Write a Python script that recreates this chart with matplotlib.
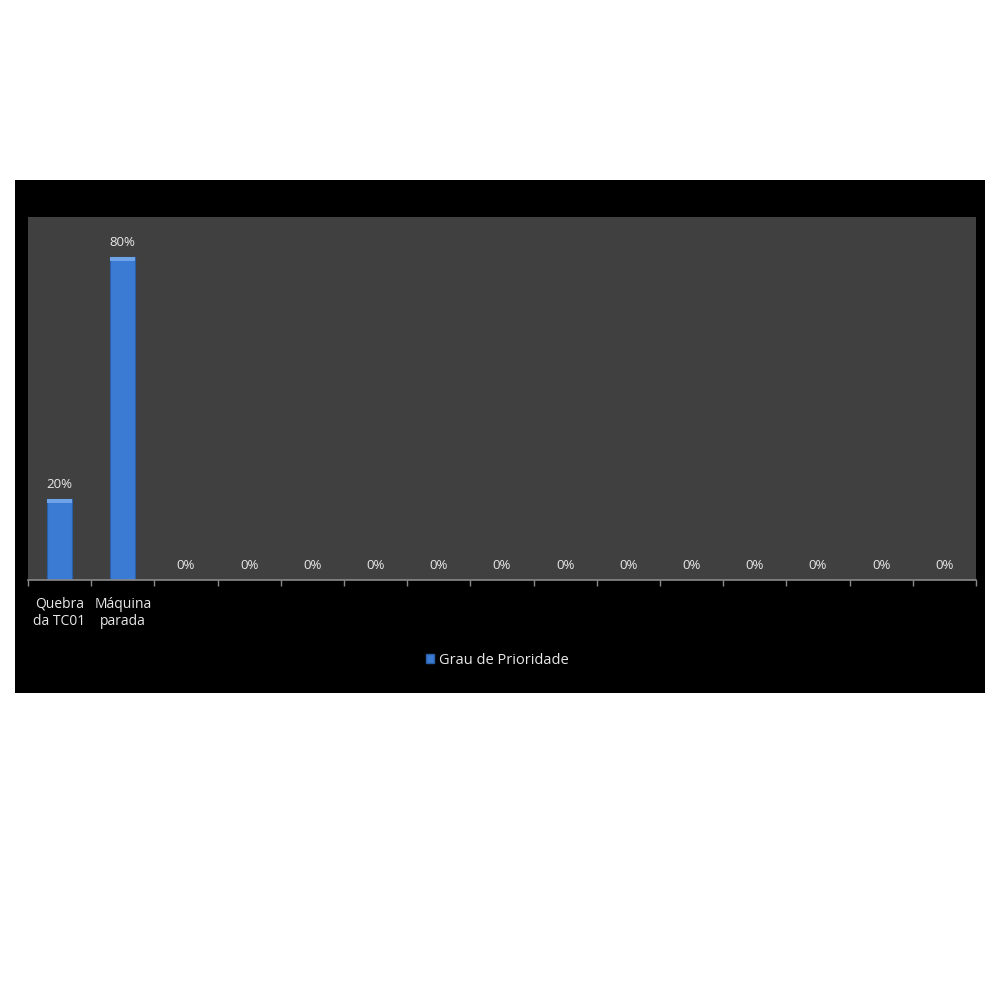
import matplotlib
matplotlib.use('Agg')
import matplotlib.pyplot as plt
from matplotlib.patches import Rectangle, Patch
import numpy as np

# data
categories = ["Quebra\nda TC01", "Máquina\nparada"] + [""] * 13
values = [0.20, 0.80] + [0.0] * 13
series_name = "Grau de Prioridade"

plt.rcParams['font.family'] = ['Open Sans', 'DejaVu Sans']

fig = plt.figure(figsize=(10, 10), dpi=100, facecolor='white')

# black chart area (behind the axes)
fig.patches.append(Rectangle((0.015, 0.307), 0.970, 0.513, transform=fig.transFigure,
                             facecolor='black', edgecolor='none', zorder=-5))

ax = fig.add_axes([0.028, 0.42, 0.948, 0.363])
ax.set_zorder(1)
ax.set_facecolor('#404040')

x = np.arange(len(values))
bars = ax.bar(x, values, width=0.4, color='#3b7bd4', edgecolor='#2a5fa8', linewidth=0.8, zorder=2)
# lighter bevel on top of bars
for b in bars:
    if b.get_height() > 0:
        ax.bar(b.get_x() + b.get_width() / 2, 0.01, bottom=b.get_height() - 0.01,
               width=b.get_width(), color='#6ea3e8', linewidth=0, zorder=3)

for xi, v in zip(x, values):
    ax.text(xi, v + 0.02, f"{v:.0%}", ha='center', va='bottom', color='#e8e8e8', fontsize=9.5)

ax.set_xlim(-0.5, len(values) - 0.5)
ax.set_ylim(0, 0.9)
ax.set_yticks([])
ax.set_xticks(np.arange(len(values) + 1) - 0.5, minor=False)
ax.set_xticklabels([])
ax.tick_params(axis='x', which='major', direction='out', length=4, color='#8a8a8a', width=1)
ax.set_xticks(x, minor=True)
ax.set_xticklabels(categories, minor=True, color='#e8e8e8', fontsize=10, linespacing=1.25)
ax.tick_params(axis='x', which='minor', length=0, pad=12)

for side in ['top', 'right', 'left']:
    ax.spines[side].set_visible(False)
ax.spines['bottom'].set_color('#8a8a8a')
ax.spines['bottom'].set_linewidth(1.2)

leg = fig.legend(handles=[Patch(facecolor='#3b7bd4', edgecolor='#2a5fa8', label=series_name)],
                 loc='center', bbox_to_anchor=(0.497, 0.340), frameon=False,
                 handlelength=0.6, handleheight=0.6, handletextpad=0.3, fontsize=10.5)
leg.set_zorder(2)
for t in leg.get_texts():
    t.set_color('#e8e8e8')

fig.savefig('out.png', dpi=100, facecolor='white')
